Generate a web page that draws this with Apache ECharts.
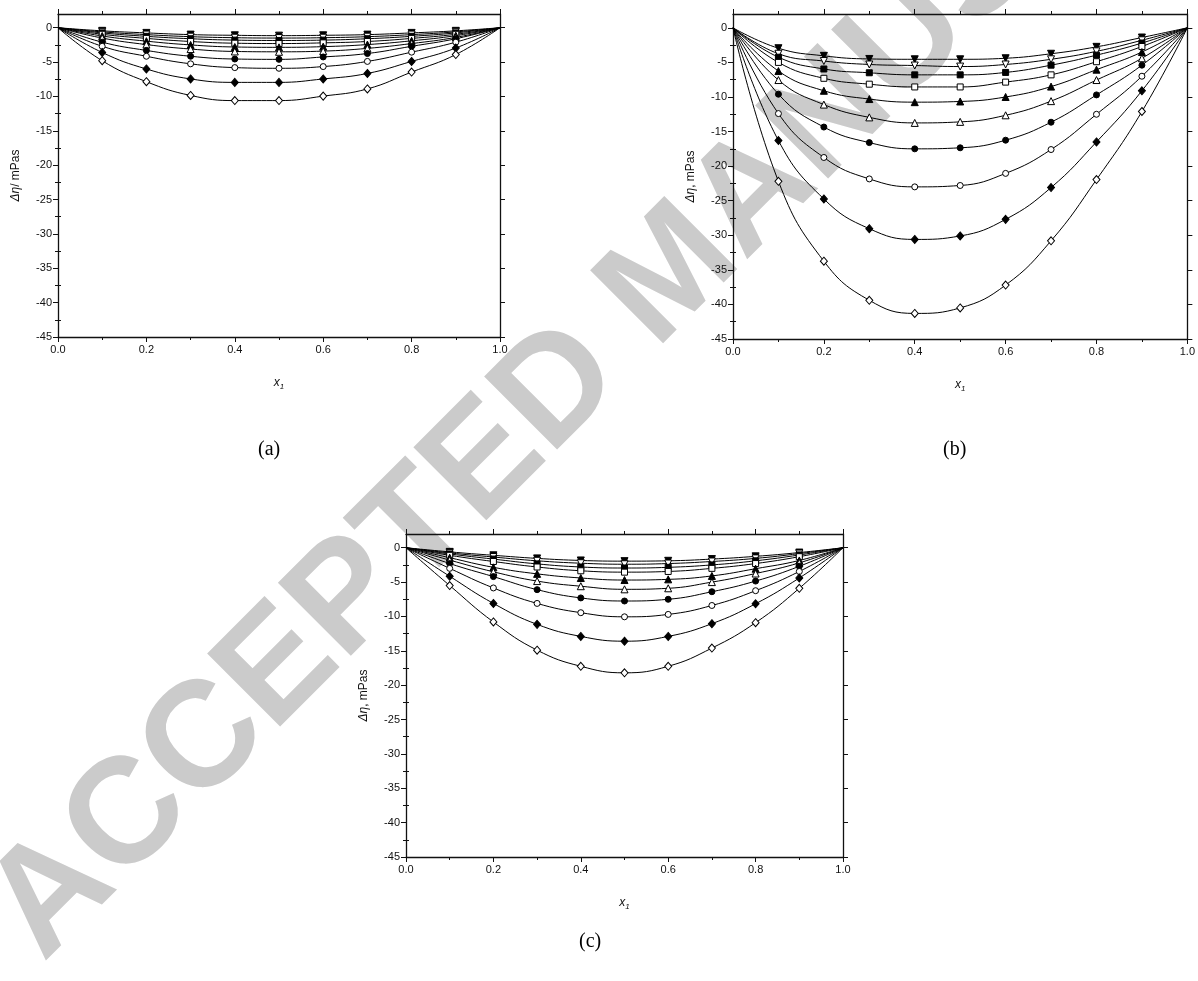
<!DOCTYPE html>
<html>
<head>
<meta charset="utf-8">
<script src="https://cdn.jsdelivr.net/npm/echarts@6/dist/echarts.min.js"></script>
<style>
  html, body { margin: 0; padding: 0; background: #fff; }
  #chart { width: 1198px; height: 981px; }
</style>
</head>
<body>
<div id="chart"></div>
<script>
// Mole fraction of component 1 at the measured compositions
const x1 = [0.1, 0.2, 0.3, 0.4, 0.5, 0.6, 0.7, 0.8, 0.9];
// Pure components: deviation is zero at both ends
const pureEnds = [0, 1];

// Viscosity deviation Δη / mPas, one array per curve, listed top to bottom
// Panel (a)
const aDownFilled = [-0.45, -0.75, -1.0, -1.1, -1.15, -1.1, -1.0, -0.75, -0.45];
const aDownOpen   = [-0.6, -1.0, -1.3, -1.45, -1.5, -1.45, -1.3, -1.0, -0.6];
const aSqFilled   = [-0.75, -1.25, -1.6, -1.8, -1.85, -1.8, -1.6, -1.25, -0.75];
const aSqOpen     = [-0.95, -1.55, -2.0, -2.25, -2.3, -2.2, -2.0, -1.55, -0.95];
const aTriFilled  = [-1.2, -1.95, -2.5, -2.8, -2.85, -2.75, -2.45, -1.9, -1.15];
const aTriOpen    = [-1.5, -2.45, -3.1, -3.45, -3.5, -3.4, -3.0, -2.3, -1.4];
const aCircFilled = [-2.1, -3.3, -4.15, -4.55, -4.6, -4.25, -3.75, -2.7, -1.6];
const aCircOpen   = [-2.7, -4.15, -5.25, -5.8, -5.9, -5.65, -4.9, -3.55, -2.1];
const aDiaFilled  = [-3.6, -6.0, -7.45, -7.95, -7.95, -7.45, -6.65, -4.9, -2.95];
const aDiaOpen    = [-4.8, -7.85, -9.85, -10.6, -10.6, -9.95, -8.9, -6.45, -3.9];

// Panel (b)
const bDownFilled = [-2.95, -4.05, -4.5, -4.55, -4.55, -4.4, -3.75, -2.75, -1.4];
const bDownOpen   = [-3.75, -4.8, -5.3, -5.45, -5.6, -5.3, -4.55, -3.4, -1.8];
const bSqFilled   = [-4.25, -5.95, -6.5, -6.8, -6.8, -6.45, -5.4, -3.95, -2.2];
const bSqOpen     = [-5.0, -7.3, -8.15, -8.55, -8.55, -7.85, -6.8, -4.9, -2.7];
const bTriFilled  = [-6.25, -9.1, -10.3, -10.75, -10.65, -10.0, -8.5, -6.05, -3.5];
const bTriOpen    = [-7.55, -11.1, -12.95, -13.75, -13.6, -12.65, -10.6, -7.55, -4.4];
const bCircFilled = [-9.6, -14.35, -16.6, -17.5, -17.35, -16.25, -13.65, -9.7, -5.4];
const bCircOpen   = [-12.4, -18.75, -21.85, -23.0, -22.8, -21.05, -17.6, -12.5, -7.0];
const bDiaFilled  = [-16.3, -24.75, -29.05, -30.6, -30.1, -27.7, -23.1, -16.5, -9.1];
const bDiaOpen    = [-22.2, -33.75, -39.4, -41.3, -40.5, -37.2, -30.8, -21.95, -12.1];

// Panel (c)
const cDownFilled = [-0.6, -1.1, -1.55, -1.85, -1.95, -1.9, -1.65, -1.25, -0.7];
const cDownOpen   = [-0.75, -1.35, -1.9, -2.25, -2.4, -2.3, -2.0, -1.55, -0.85];
const cSqFilled   = [-0.9, -1.65, -2.35, -2.8, -2.95, -2.85, -2.5, -1.9, -1.05];
const cSqOpen     = [-1.1, -2.0, -2.8, -3.35, -3.55, -3.45, -3.0, -2.3, -1.3];
const cTriFilled  = [-1.45, -2.85, -3.8, -4.4, -4.7, -4.6, -4.1, -3.05, -1.85];
const cTriOpen    = [-1.8, -3.5, -4.85, -5.6, -6.05, -5.9, -5.0, -3.75, -2.2];
const cCircFilled = [-2.3, -4.2, -6.1, -7.3, -7.75, -7.5, -6.4, -4.85, -2.7];
const cCircOpen   = [-3.0, -5.85, -8.1, -9.45, -10.05, -9.7, -8.4, -6.25, -3.45];
const cDiaFilled  = [-4.15, -8.1, -11.15, -12.9, -13.6, -12.9, -11.05, -8.15, -4.4];
const cDiaOpen    = [-5.5, -10.8, -14.9, -17.25, -18.2, -17.25, -14.6, -10.9, -5.9];

// Axis ticks and labels
const yMajorTicks = [0, -5, -10, -15, -20, -25, -30, -35, -40, -45];
const yMinorTicks = [-2.5, -7.5, -12.5, -17.5, -22.5, -27.5, -32.5, -37.5, -42.5];
const panelTags = ['(a)', '(b)', '(c)'];
const yTitles = ['{i|Δη}/ mPas', '{i|Δη}, mPas', '{i|Δη}, mPas'];

const panels = [
  [aDownFilled, aDownOpen, aSqFilled, aSqOpen, aTriFilled, aTriOpen, aCircFilled, aCircOpen, aDiaFilled, aDiaOpen],
  [bDownFilled, bDownOpen, bSqFilled, bSqOpen, bTriFilled, bTriOpen, bCircFilled, bCircOpen, bDiaFilled, bDiaOpen],
  [cDownFilled, cDownOpen, cSqFilled, cSqOpen, cTriFilled, cTriOpen, cCircFilled, cCircOpen, cDiaFilled, cDiaOpen]
];

// Marker style for each curve, in the same order as the data arrays
const markerStyles = [
  { symbol: 'triangle', rotate: 180, filled: true, size: 7 },
  { symbol: 'triangle', rotate: 180, filled: false, size: 7 },
  { symbol: 'rect', rotate: 0, filled: true, size: 6 },
  { symbol: 'rect', rotate: 0, filled: false, size: 6 },
  { symbol: 'triangle', rotate: 0, filled: true, size: 7 },
  { symbol: 'triangle', rotate: 0, filled: false, size: 7 },
  { symbol: 'circle', rotate: 0, filled: true, size: 6 },
  { symbol: 'circle', rotate: 0, filled: false, size: 6 },
  { symbol: 'diamond', rotate: 0, filled: true, size: [7, 8] },
  { symbol: 'diamond', rotate: 0, filled: false, size: [7, 8] }
];

// Plot frames in page pixels
const frames = [
  { left: 58, top: 14, width: 442, height: 323 },
  { left: 733, top: 14, width: 455, height: 325 },
  { left: 406, top: 534, width: 437, height: 323 }
];
const tagPos = [[270, 452], [955, 452], [591, 944]];

const ink = '#111';
const fontSans = '"Liberation Sans", Arial, sans-serif';

const grid = [], xAxis = [], yAxis = [], series = [], graphic = [];

frames.forEach((f, p) => {
  grid.push({ left: f.left, top: f.top, width: f.width, height: f.height, containLabel: false });

  const xBase = {
    type: 'value', gridIndex: p, min: 0, max: 1, interval: 0.2,
    axisLine: { show: true, onZero: false, lineStyle: { color: ink, width: 1.3 } },
    axisTick: { show: true, inside: false, length: 5, lineStyle: { color: ink, width: 1 } },
    minorTick: { show: true, splitNumber: 2, length: 3, lineStyle: { color: ink, width: 1 } },
    splitLine: { show: false }, minorSplitLine: { show: false }
  };
  xAxis.push(Object.assign({}, xBase, {
    position: 'bottom',
    axisLabel: { show: true, margin: 7, color: ink, fontSize: 11, fontFamily: fontSans,
      formatter: v => v.toFixed(1) },
    name: '{i|x}{s|1}', nameLocation: 'middle', nameGap: 38,
    nameTextStyle: { rich: {
      i: { fontStyle: 'italic', fontSize: 12, fontFamily: fontSans, color: ink },
      s: { fontStyle: 'italic', fontSize: 8, fontFamily: fontSans, color: ink, padding: [8, 0, 0, 0] }
    } }
  }));
  xAxis.push(Object.assign({}, xBase, { position: 'top', axisLabel: { show: false } }));

  const yBase = {
    type: 'value', gridIndex: p, min: -45, max: 2,
    splitLine: { show: false }, minorTick: { show: false }
  };
  const majorTick = { show: true, inside: false, length: 5, customValues: yMajorTicks,
    lineStyle: { color: ink, width: 1 } };
  const minorTick = { show: true, inside: false, length: 3, customValues: yMinorTicks,
    lineStyle: { color: ink, width: 1 } };
  const frameLine = { show: true, onZero: false, lineStyle: { color: ink, width: 1.3 } };

  yAxis.push(Object.assign({}, yBase, {
    position: 'left', axisLine: frameLine, axisTick: majorTick,
    axisLabel: { show: true, customValues: yMajorTicks, margin: 6, color: ink, fontSize: 11,
      fontFamily: fontSans },
    name: yTitles[p], nameLocation: 'middle', nameGap: 36, nameRotate: 90,
    nameTextStyle: { fontSize: 12, fontFamily: fontSans, color: ink, rich: {
      i: { fontStyle: 'italic', fontSize: 12, fontFamily: fontSans, color: ink }
    } }
  }));
  yAxis.push(Object.assign({}, yBase, {
    position: 'left', axisLine: { show: false }, axisTick: minorTick, axisLabel: { show: false }
  }));
  yAxis.push(Object.assign({}, yBase, {
    position: 'right', axisLine: frameLine, axisTick: majorTick, axisLabel: { show: false }
  }));
  yAxis.push(Object.assign({}, yBase, {
    position: 'right', axisLine: { show: false }, axisTick: minorTick, axisLabel: { show: false }
  }));

  panels[p].forEach((vals, k) => {
    const m = markerStyles[k];
    const data = [{ value: [pureEnds[0], 0], symbol: 'none' }];
    x1.forEach((x, i) => data.push([x, vals[i]]));
    data.push({ value: [pureEnds[1], 0], symbol: 'none' });
    series.push({
      type: 'line', xAxisIndex: 2 * p, yAxisIndex: 4 * p,
      data, smooth: 0.45, showSymbol: true, showAllSymbol: true,
      symbol: m.symbol, symbolSize: m.size, symbolRotate: m.rotate,
      lineStyle: { color: '#000', width: 1 },
      itemStyle: { color: m.filled ? '#000' : '#fff', borderColor: '#000', borderWidth: 1 },
      emphasis: { disabled: true }, silent: true, z: 3
    });
  });

  graphic.push({
    type: 'text', left: tagPos[p][0] - 12, top: tagPos[p][1] - 12, z: 5,
    style: { text: panelTags[p], fontSize: 20, fontFamily: '"Liberation Serif", "Times New Roman", serif',
      fill: '#000' }
  });
});

// Diagonal manuscript stamp behind the plots
graphic.push({
  type: 'text', x: 67, y: 987, rotation: Math.PI / 4, z: -10, zlevel: 0, silent: true,
  style: { text: 'ACCEPTED MANUSCRIPT', fontSize: 150, fontWeight: 'bold',
    fontFamily: fontSans, fill: '#cbcbcb', align: 'left', verticalAlign: 'bottom' }
});

const chart = echarts.init(document.getElementById('chart'), null, { renderer: 'canvas' });
chart.setOption({
  animation: false,
  backgroundColor: '#fff',
  grid, xAxis, yAxis, series, graphic
});
</script>
</body>
</html>
